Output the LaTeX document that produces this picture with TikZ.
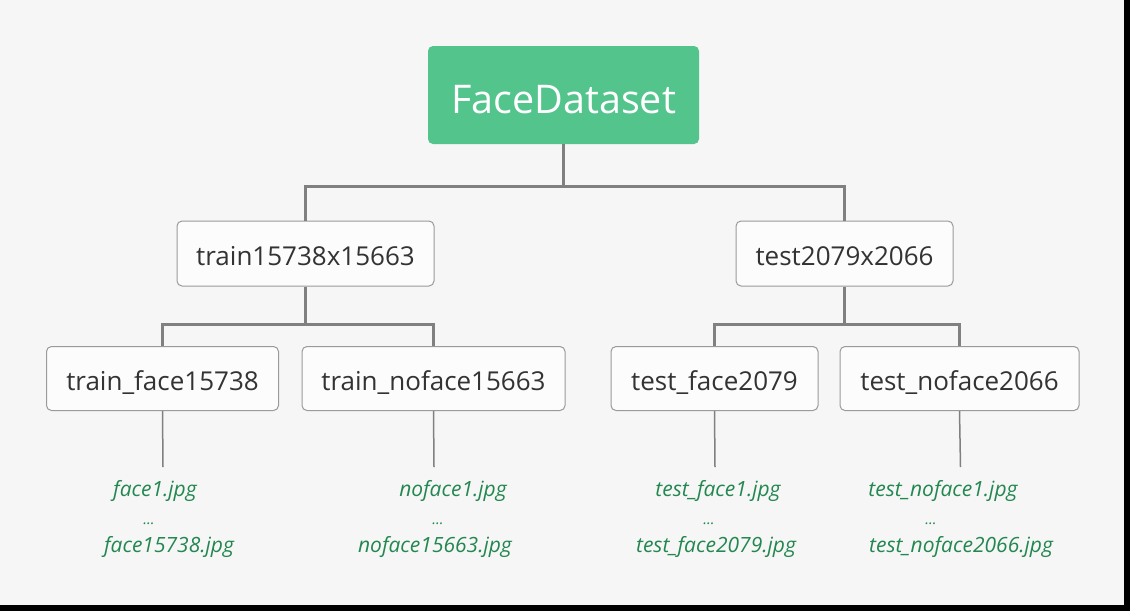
\documentclass[tikz,border=0pt]{standalone}
\usepackage{fontspec}
\setmainfont{Open Sans}
\definecolor{bgc}{HTML}{F6F6F6}
\definecolor{rootc}{HTML}{52C48C}
\definecolor{boxline}{HTML}{9A9A9A}
\definecolor{boxfill}{HTML}{FCFCFC}
\definecolor{linec}{HTML}{808080}
\definecolor{leafc}{HTML}{238750}
\definecolor{txtc}{HTML}{333333}
\tikzset{
  rootbox/.style={draw=none, fill=rootc, rounded corners=5pt, text=white,
    font=\fontsize{39.5}{42}\selectfont, minimum width=271pt, minimum height=98pt,
    text height=36pt, text depth=0pt, inner sep=0pt},
  kidbox/.style={draw=boxline, line width=1pt, fill=boxfill, rounded corners=5pt, text=txtc,
    font=\fontsize{26}{29}\selectfont, minimum height=65pt,
    text height=23.5pt, text depth=0pt, inner sep=0pt},
  conn/.style={draw=linec, line width=3pt},
  leafconn/.style={draw=linec, line width=1.5pt},
  leaf/.style={text=leafc, font=\fontsize{21}{23}\selectfont\itshape, anchor=base, inner sep=0pt},
  dots/.style={text=leafc, font=\fontsize{15}{17}\selectfont\itshape, anchor=base, inner sep=0pt},
}
\begin{document}
\begin{tikzpicture}[x=1pt,y=-1pt]
\fill[black] (0,0) rectangle (1130,611);
\fill[bgc] (0,0) rectangle (1124,605);
\useasboundingbox (0,0) rectangle (1130,611);

\node[rootbox] (root) at (563.5,95) {FaceDataset};
\node[kidbox, minimum width=257pt] (train) at (305.5,253.5) {train15738x15663};
\node[kidbox, minimum width=217pt] (test) at (844.5,253.5) {test2079x2066};

\node[kidbox, minimum width=232pt, minimum height=64pt] (trf) at (162.5,378.5) {train\_face15738};
\node[kidbox, minimum width=263pt, minimum height=64pt] (trn) at (433.5,378.5) {train\_noface15663};
\node[kidbox, minimum width=207pt, minimum height=64pt] (tef) at (714.5,378.5) {test\_face2079};
\node[kidbox, minimum width=239pt, minimum height=64pt] (ten) at (959.5,378.5) {test\_noface2066};

\coordinate (j0) at (563.5,186.5);
\coordinate (j1) at (305.5,324);
\coordinate (j2) at (844.5,324);

\draw[conn] (root.south) -- (j0) -| (train.north);
\draw[conn] (j0) -| (test.north);
\draw[conn] (train.south) -- (j1) -| (trf.north);
\draw[conn] (j1) -| (trn.north);
\draw[conn] (test.south) -- (j2) -| (tef.north);
\draw[conn] (j2) -| (ten.north);

\coordinate (e1) at (163,467);
\coordinate (e2) at (434,467);
\coordinate (e3) at (715,467);
\coordinate (e4) at (960.5,467);
\draw[leafconn] (trf.south) -- (e1);
\draw[leafconn] (trn.south) -- (e2);
\draw[leafconn] (tef.south) -- (e3);
\draw[leafconn] (ten.south) -- (e4);

\node[leaf] (a1) at (155,496) {face1.jpg};
\node[dots] (a2) at (149,524) {...};
\node[leaf] (a3) at (169,552) {face15738.jpg};
\node[leaf] (b1) at (453,496) {noface1.jpg};
\node[dots] (b2) at (438,524) {...};
\node[leaf] (b3) at (435,552) {noface15663.jpg};
\node[leaf] (c1) at (718,496) {test\_face1.jpg};
\node[dots] (c2) at (709,524) {...};
\node[leaf] (c3) at (716,552) {test\_face2079.jpg};
\node[leaf] (d1) at (943,496) {test\_noface1.jpg};
\node[dots] (d2) at (931,524) {...};
\node[leaf] (d3) at (961,552) {test\_noface2066.jpg};
\end{tikzpicture}
\end{document}
